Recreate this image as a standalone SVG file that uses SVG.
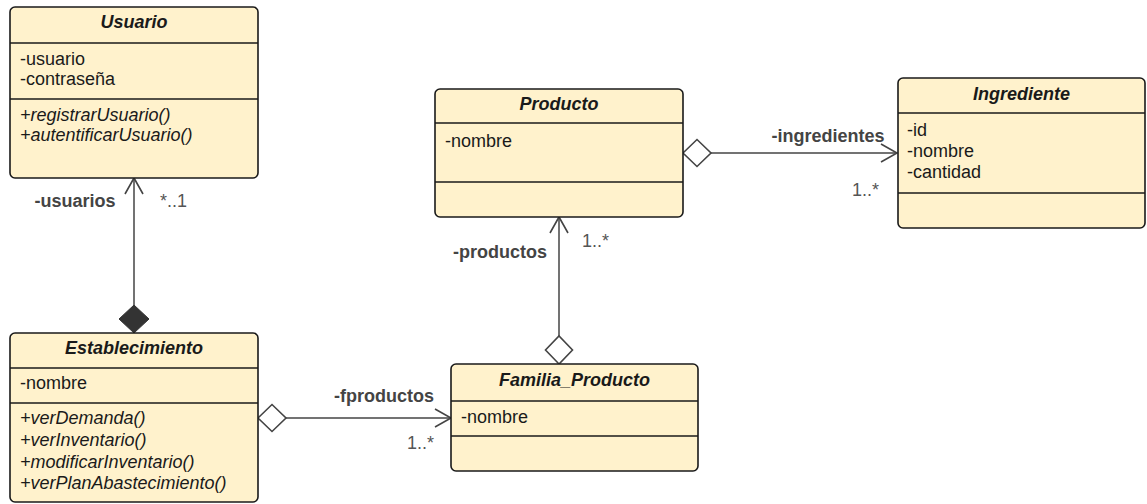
<svg xmlns="http://www.w3.org/2000/svg" width="1147" height="504" viewBox="0 0 1147 504">
<style>
text{font-family:"Liberation Sans",Arial,sans-serif;font-size:18px;fill:#1a1a1a}
.box{fill:#fff2cc;stroke:#1a1a1a;stroke-width:1.6}
.div{stroke:#1a1a1a;stroke-width:1.6}
.title{font-weight:bold;font-style:italic;text-anchor:middle}
.op{font-style:italic}
.conn{fill:none;stroke:#444;stroke-width:1.5}
.role{font-weight:bold;fill:#444}
.mult{fill:#555}
</style>
<defs>
<marker id="arrow" viewBox="0 0 16 18" refX="16" refY="9" markerWidth="16" markerHeight="18" markerUnits="userSpaceOnUse" orient="auto" overflow="visible">
<path d="M0,0 L16,9 L0,18" fill="none" stroke="#444" stroke-width="1.6"/>
</marker>
<marker id="diamond" viewBox="0 0 28 27" refX="0" refY="13.5" markerWidth="28" markerHeight="27" markerUnits="userSpaceOnUse" orient="auto" overflow="visible">
<path d="M0,13.5 L14,0 L28,13.5 L14,27 Z" fill="#fff" stroke="#444" stroke-width="1.6"/>
</marker>
<marker id="diamondFilled" viewBox="0 0 28 30" refX="0" refY="15" markerWidth="28" markerHeight="30" markerUnits="userSpaceOnUse" orient="auto" overflow="visible">
<path d="M0,15 L14,0 L28,15 L14,30 Z" fill="#333" stroke="#333" stroke-width="1"/>
</marker>
</defs>

<g id="connectors">
<path class="conn" d="M134,333 L134,178" marker-start="url(#diamondFilled)" marker-end="url(#arrow)"/>
<path class="conn" d="M683,153 L897,153" marker-start="url(#diamond)" marker-end="url(#arrow)"/>
<path class="conn" d="M559,364 L559,217" marker-start="url(#diamond)" marker-end="url(#arrow)"/>
<path class="conn" d="M258,418 L451,418" marker-start="url(#diamond)" marker-end="url(#arrow)"/>
<text class="role" x="75" y="207" text-anchor="middle">-usuarios</text>
<text class="mult" x="160" y="207">*..1</text>
<text class="role" x="828" y="141.5" text-anchor="middle">-ingredientes</text>
<text class="mult" x="852" y="196">1..*</text>
<text class="role" x="500" y="258" text-anchor="middle">-productos</text>
<text class="mult" x="582" y="247">1..*</text>
<text class="role" x="384" y="401.5" text-anchor="middle">-fproductos</text>
<text class="mult" x="407" y="449">1..*</text>
</g>

<g id="usuario">
<rect class="box" x="10" y="7" width="248" height="171" rx="5"/>
<line class="div" x1="10" y1="43" x2="258" y2="43"/>
<line class="div" x1="10" y1="99" x2="258" y2="99"/>
<text class="title" x="134" y="28">Usuario</text>
<text x="20" y="64.5">-usuario</text>
<text x="20" y="84.5">-contraseña</text>
<text class="op" x="20" y="121">+registrarUsuario()</text>
<text class="op" x="20" y="141">+autentificarUsuario()</text>
</g>

<g id="establecimiento">
<rect class="box" x="10" y="333" width="248" height="169" rx="5"/>
<line class="div" x1="10" y1="368" x2="258" y2="368"/>
<line class="div" x1="10" y1="403" x2="258" y2="403"/>
<text class="title" x="134" y="354">Establecimiento</text>
<text x="20" y="389">-nombre</text>
<text class="op" x="20" y="424">+verDemanda()</text>
<text class="op" x="20" y="445.5">+verInventario()</text>
<text class="op" x="20" y="467.5">+modificarInventario()</text>
<text class="op" x="20" y="489">+verPlanAbastecimiento()</text>
</g>

<g id="producto">
<rect class="box" x="435" y="89" width="248" height="128" rx="5"/>
<line class="div" x1="435" y1="123" x2="683" y2="123"/>
<line class="div" x1="435" y1="182" x2="683" y2="182"/>
<text class="title" x="559" y="110">Producto</text>
<text x="445" y="147">-nombre</text>
</g>

<g id="ingrediente">
<rect class="box" x="898" y="78" width="247" height="150" rx="5"/>
<line class="div" x1="898" y1="113" x2="1145" y2="113"/>
<line class="div" x1="898" y1="193" x2="1145" y2="193"/>
<text class="title" x="1021.5" y="100">Ingrediente</text>
<text x="907" y="136">-id</text>
<text x="907" y="157">-nombre</text>
<text x="907" y="178">-cantidad</text>
</g>

<g id="familia_producto">
<rect class="box" x="451" y="364" width="247" height="107" rx="5"/>
<line class="div" x1="451" y1="401" x2="698" y2="401"/>
<line class="div" x1="451" y1="436" x2="698" y2="436"/>
<text class="title" x="574.5" y="386">Familia_Producto</text>
<text x="461" y="423">-nombre</text>
</g>
</svg>
